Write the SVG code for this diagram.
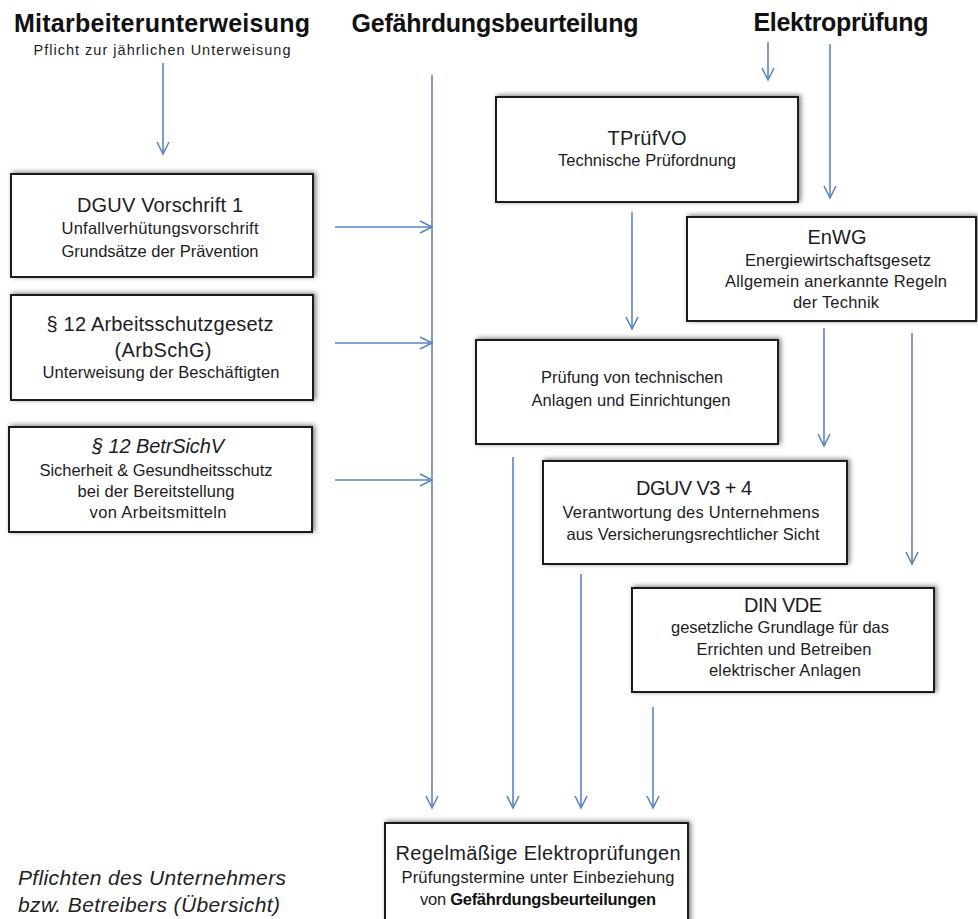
<svg xmlns="http://www.w3.org/2000/svg" width="978" height="919" viewBox="0 0 978 919">
<style>
text{font-family:"Liberation Sans",Arial,sans-serif;fill:#1c1c24;text-anchor:middle}
.h{font-size:25px;font-weight:bold;fill:#111}
.t{font-size:20px}
.s{font-size:16.5px}
.box{fill:#fff;stroke:#1a1a1a;stroke-width:2;filter:url(#sh)}
.c{stroke:#5b85c0;stroke-width:1.6;fill:none;marker-end:url(#ah)}
.note{font-size:21px;font-style:italic;text-anchor:start;fill:#222}
</style>
<defs>
<filter id="sh" x="-10%" y="-20%" width="120%" height="140%">
<feDropShadow dx="2" dy="-1" stdDeviation="2.5" flood-color="#000" flood-opacity="0.5"/>
</filter>
<marker id="ah" markerUnits="userSpaceOnUse" markerWidth="16" markerHeight="16" refX="13" refY="7" orient="auto">
<path d="M1,1 L13,7 L1,13" fill="none" stroke="#5b85c0" stroke-width="1.6"/>
</marker>
</defs>

<g id="headers">
<text class="h" x="162" y="32" textLength="296">Mitarbeiterunterweisung</text>
<text class="s" x="162" y="55" textLength="257" style="font-size:14.5px">Pflicht zur jährlichen Unterweisung</text>
<text class="h" x="495" y="32" textLength="287">Gefährdungsbeurteilung</text>
<text class="h" x="841" y="31" textLength="175">Elektroprüfung</text>
</g>

<g id="connectors">
<line class="c" x1="163" y1="63" x2="163" y2="154"/>
<line class="c" x1="432" y1="75" x2="432" y2="808"/>
<line class="c" x1="335" y1="227" x2="432" y2="227"/>
<line class="c" x1="335" y1="343" x2="432" y2="343"/>
<line class="c" x1="335" y1="480" x2="432" y2="480"/>
<line class="c" x1="768" y1="42" x2="768" y2="80"/>
<line class="c" x1="830" y1="44" x2="830" y2="198"/>
<line class="c" x1="632" y1="212" x2="632" y2="329"/>
<line class="c" x1="824" y1="328" x2="824" y2="446"/>
<line class="c" x1="912" y1="333" x2="912" y2="564"/>
<line class="c" x1="513" y1="457" x2="513" y2="808"/>
<line class="c" x1="581" y1="574" x2="581" y2="808"/>
<line class="c" x1="653" y1="707" x2="653" y2="808"/>
</g>

<g id="dguv1">
<rect class="box" x="11" y="174" width="302" height="103"/>
<text class="t" x="160" y="212" textLength="166">DGUV Vorschrift 1</text>
<text class="s" x="160" y="234" textLength="197">Unfallverhütungsvorschrift</text>
<text class="s" x="160" y="257" textLength="197">Grundsätze der Prävention</text>
</g>

<g id="arbschg">
<rect class="box" x="11" y="295" width="302" height="105"/>
<text class="t" x="160" y="331" textLength="227">§ 12 Arbeitsschutzgesetz</text>
<text class="t" x="163" y="357" textLength="97">(ArbSchG)</text>
<text class="s" x="161" y="378" textLength="237">Unterweisung der Beschäftigten</text>
</g>

<g id="betrsichv">
<rect class="box" x="9" y="427" width="303" height="105"/>
<text class="t" x="158" y="453" textLength="132" style="font-style:italic">§ 12 BetrSichV</text>
<text class="s" x="156" y="476" textLength="233">Sicherheit &amp; Gesundheitsschutz</text>
<text class="s" x="156" y="497" textLength="157">bei der Bereitstellung</text>
<text class="s" x="158" y="518" textLength="137">von Arbeitsmitteln</text>
</g>

<g id="tpruefvo">
<rect class="box" x="496" y="97" width="302" height="105"/>
<text class="t" x="647" y="145" textLength="79">TPrüfVO</text>
<text class="s" x="647" y="166" textLength="178">Technische Prüfordnung</text>
</g>

<g id="enwg">
<rect class="box" x="687" y="217" width="289" height="104"/>
<text class="t" x="837" y="244" textLength="59">EnWG</text>
<text class="s" x="838" y="266" textLength="186">Energiewirtschaftsgesetz</text>
<text class="s" x="836" y="287" textLength="222">Allgemein anerkannte Regeln</text>
<text class="s" x="836" y="308" textLength="86">der Technik</text>
</g>

<g id="pruefung">
<rect class="box" x="476" y="340" width="302" height="104"/>
<text class="s" x="632" y="383" textLength="182">Prüfung von technischen</text>
<text class="s" x="631" y="406" textLength="199">Anlagen und Einrichtungen</text>
</g>

<g id="dguv34">
<rect class="box" x="543" y="461" width="304" height="103"/>
<text class="t" x="694" y="495" textLength="116">DGUV V3 + 4</text>
<text class="s" x="691" y="518" textLength="257">Verantwortung des Unternehmens</text>
<text class="s" x="693" y="540" textLength="253">aus Versicherungsrechtlicher Sicht</text>
</g>

<g id="dinvde">
<rect class="box" x="632" y="588" width="302" height="104"/>
<text class="t" x="783" y="612" textLength="78">DIN VDE</text>
<text class="s" x="780" y="633" textLength="218">gesetzliche Grundlage für das</text>
<text class="s" x="784" y="655" textLength="175">Errichten und Betreiben</text>
<text class="s" x="785" y="676" textLength="152">elektrischer Anlagen</text>
</g>

<g id="regelmaessig">
<rect class="box" x="385" y="823" width="303" height="104"/>
<text class="t" x="538" y="860" textLength="285">Regelmäßige Elektroprüfungen</text>
<text class="s" x="538" y="883" textLength="273">Prüfungstermine unter Einbeziehung</text>
<text class="s" x="538" y="905" textLength="236">von <tspan font-weight="bold" fill="#111">Gefährdungsbeurteilungen</tspan></text>
</g>

<g id="note">
<text class="note" x="18" y="885" textLength="268">Pflichten des Unternehmers</text>
<text class="note" x="18" y="912" textLength="262">bzw. Betreibers (Übersicht)</text>
</g>
</svg>
